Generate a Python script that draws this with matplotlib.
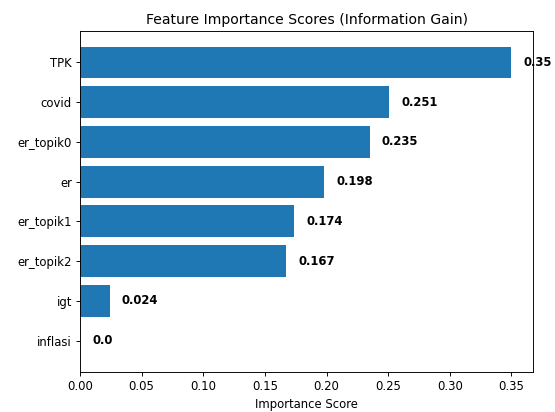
import matplotlib
matplotlib.use("Agg")
import matplotlib.pyplot as plt

features = ["TPK", "covid", "er_topik0", "er", "er_topik1", "er_topik2", "igt", "inflasi"]
scores = [0.35, 0.251, 0.235, 0.198, 0.174, 0.167, 0.024, 0.0]

DPI = 84
W, H = 555, 412
fig = plt.figure(figsize=(W / DPI, H / DPI), dpi=DPI)
left, right, top, bottom = 80, 533, 31, 372
ax = fig.add_axes([left / W, 1 - bottom / H, (right - left) / W, (bottom - top) / H])

ax.barh(features, scores, color="#1f77b4")
ax.invert_yaxis()
for i, v in enumerate(scores):
    ax.text(v + 0.01, i, str(v), va="center", ha="left", fontweight="bold", fontsize=10)

ax.set_title("Feature Importance Scores (Information Gain)", fontsize=12)
ax.set_xlabel("Importance Score", fontsize=10)

fig.savefig("out.png", dpi=DPI)
